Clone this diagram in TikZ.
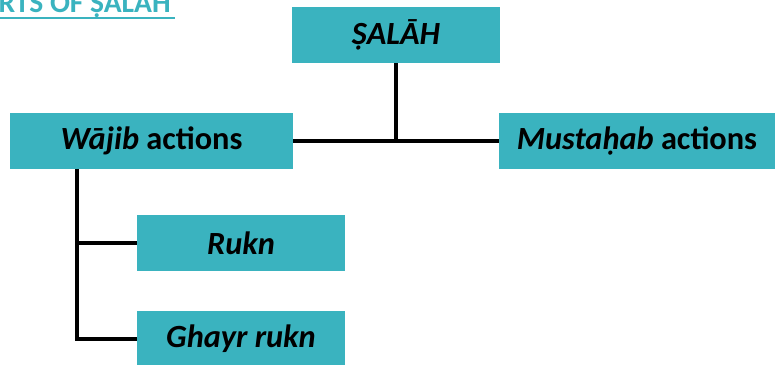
\documentclass[tikz,border=0pt]{standalone}
\usepackage{fontspec}
\setmainfont{Carlito}
\usepackage{tikz}
\usetikzlibrary{calc}
\definecolor{salahteal}{HTML}{3AB3BF}

\begin{document}
\begin{tikzpicture}[
  x=0.025cm, y=-0.025cm,
  font=\fontsize{23}{26}\selectfont\bfseries,
  part/.style={fill=salahteal, inner sep=0pt, minimum height=1.4cm,
    align=center},
  link/.style={line width=2.8pt, black},
  heading/.style={text=salahteal, font=\fontsize{21}{24}\selectfont\bfseries,
    inner sep=0pt, anchor=base east}
]
  \useasboundingbox (0,0) rectangle (775,365);

  \node[heading] (title) at (171,13) {PARTS OF ṢALĀH};
  \draw[salahteal, line width=2.1pt] ($(title.base west)+(0,5)$) -- ($(title.base east)+(4,5)$);

  \node[part, minimum width=5.2cm] (salah) at (396,35) {\textit{ṢALĀH}};
  \node[part, minimum width=7.075cm] (wajib) at (151.5,141)
    {\textit{Wājib} actions};
  \node[part, minimum width=6.9cm] (mustahab) at (637,141)
    {\textit{Mustaḥab} actions};
  \node[part, minimum width=5.2cm] (rukn) at (241,243) {\textit{Rukn}};
  \node[part, minimum width=5.2cm] (ghayr) at (241,339) {\textit{Ghayr rukn}};

  \draw[link] (wajib.east) -- (mustahab.west);
  \draw[link] (salah.south) -- (salah.south |- wajib.east);
  \coordinate (trunk) at (77,169);
  \draw[link] (trunk) -- (trunk |- ghayr.west) -- (ghayr.west);
  \draw[link] (trunk |- rukn.west) -- (rukn.west);
\end{tikzpicture}
\end{document}
